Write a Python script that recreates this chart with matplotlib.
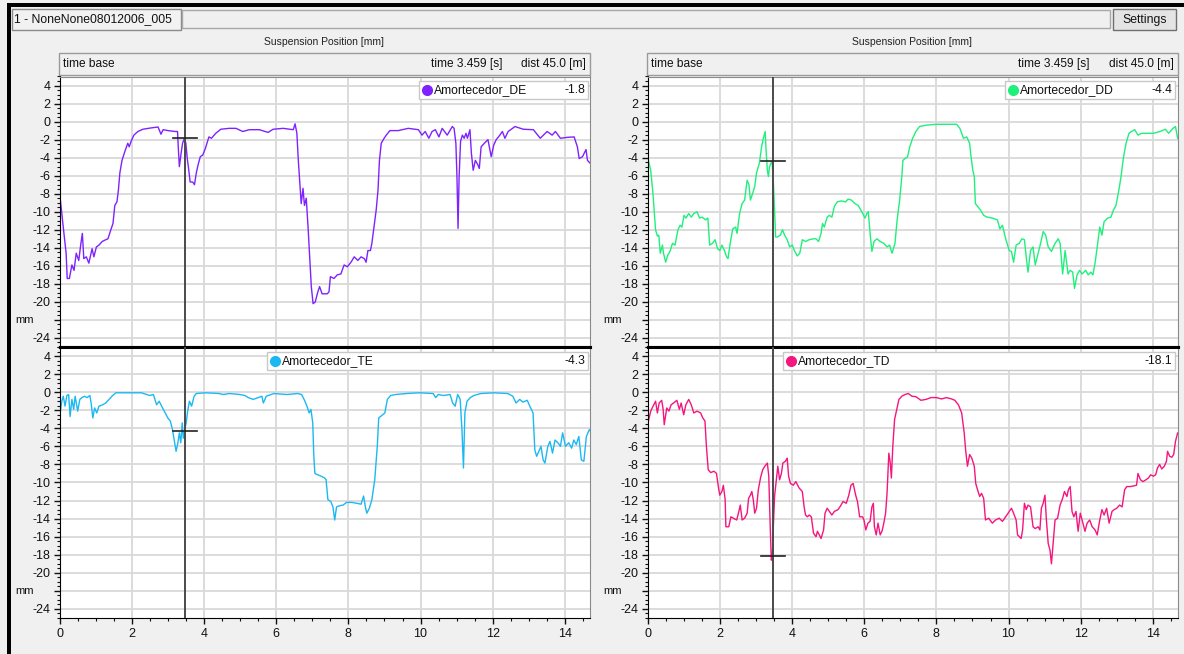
import numpy as np
import matplotlib.pyplot as plt
import matplotlib.transforms as mtransforms
from matplotlib.patches import Rectangle
from matplotlib.lines import Line2D
from matplotlib.ticker import MultipleLocator

plt.rcParams['font.family'] = ['Liberation Sans', 'DejaVu Sans']

W, H = 1184, 654

# cursor and header values
cursor_t = 3.459
cursor_dist = 45.0
file_name = "1 - NoneNone08012006_005"
chart_title = "Suspension Position [mm]"

names = ["Amortecedor_DE", "Amortecedor_DD", "Amortecedor_TE", "Amortecedor_TD"]
cursor_vals = [-1.8, -4.4, -4.3, -18.1]
colors = ["#7f22ff", "#1ff07c", "#1cb8f2", "#f5157e"]

# traces: (time [s], position [mm])
de = [(0, -8.3), (0.09, -11.7), (0.17, -14.6), (0.2, -17.4), (0.26, -17.4), (0.33, -15.9),
      (0.39, -16.5), (0.45, -14.6), (0.52, -15.4), (0.58, -13.5), (0.62, -12.4), (0.66, -15.2),
      (0.73, -15.0), (0.8, -15.7), (0.89, -14.1), (0.94, -15.0), (1.01, -13.9), (1.08, -13.7),
      (1.17, -13.3), (1.27, -13.1), (1.33, -13.0), (1.41, -12.0), (1.47, -11.3), (1.52, -9.3),
      (1.58, -8.9), (1.62, -7.6), (1.66, -5.7), (1.72, -4.3), (1.8, -3.3), (1.88, -2.4),
      (1.92, -2.8), (1.97, -2.2), (2.05, -1.5), (2.16, -1.1), (2.3, -0.85), (2.53, -0.7),
      (2.72, -0.6), (2.8, -1.4), (2.86, -0.9), (3.0, -1.0), (3.19, -1.1), (3.26, -1.1),
      (3.28, -2.8), (3.31, -5.0), (3.36, -3.5), (3.4, -2.4), (3.45, -1.85), (3.49, -2.4),
      (3.53, -4.1), (3.56, -5.0), (3.61, -6.7), (3.68, -6.7), (3.73, -7.0), (3.78, -5.7),
      (3.83, -4.8), (3.89, -3.9), (3.96, -3.7), (4.03, -3.0), (4.13, -1.7), (4.2, -1.85),
      (4.32, -1.3), (4.46, -0.85), (4.69, -0.75), (4.88, -0.75), (5.07, -1.1), (5.25, -0.9),
      (5.53, -0.9), (5.77, -1.2), (5.91, -0.85), (6.19, -0.75), (6.47, -0.9), (6.52, -0.25),
      (6.57, -1.3), (6.61, -4.3), (6.66, -7.2), (6.69, -9.1), (6.74, -7.4), (6.78, -9.3),
      (6.83, -8.5), (6.88, -11.7), (6.92, -14.6), (6.97, -18.3), (7.02, -20.2), (7.08, -20.0),
      (7.15, -18.9), (7.2, -18.3), (7.27, -19.1), (7.41, -19.1), (7.46, -18.9), (7.5, -17.2),
      (7.6, -17.4), (7.69, -17.0), (7.79, -16.9), (7.88, -15.9), (7.97, -16.1), (8.07, -15.6),
      (8.16, -15.0), (8.26, -15.4), (8.35, -15.0), (8.44, -15.2), (8.49, -15.6), (8.54, -14.3),
      (8.61, -14.3), (8.65, -13.5), (8.72, -11.3), (8.77, -9.8), (8.82, -7.6), (8.86, -4.3),
      (8.91, -2.4), (8.99, -1.85), (9.05, -1.5), (9.15, -1.0), (9.38, -1.0), (9.66, -0.75),
      (9.94, -0.9), (10.04, -1.5), (10.13, -1.1), (10.23, -1.85), (10.32, -1.1), (10.41, -0.9),
      (10.51, -1.7), (10.6, -0.75), (10.74, -1.5), (10.88, -0.55), (10.93, -0.75), (10.98, -2.4),
      (11.01, -6.1), (11.04, -11.85), (11.07, -6.1), (11.11, -2.2), (11.16, -1.5), (11.21, -1.85),
      (11.26, -1.3), (11.3, -1.85), (11.37, -0.9), (11.41, -3.5), (11.46, -5.4), (11.52, -4.3),
      (11.59, -4.8), (11.63, -5.2), (11.68, -2.8), (11.77, -2.4), (11.87, -2.0), (11.96, -3.9),
      (12.03, -2.6), (12.1, -2.0), (12.2, -1.5), (12.27, -1.1), (12.34, -1.85), (12.43, -1.1),
      (12.62, -0.55), (12.85, -0.85), (13.13, -0.9), (13.32, -1.85), (13.51, -1.1), (13.65, -1.5),
      (13.74, -1.1), (13.88, -1.85), (14.07, -1.75), (14.26, -1.7), (14.35, -2.8), (14.4, -4.1),
      (14.49, -3.9), (14.59, -3.1), (14.63, -4.3), (14.7, -4.6)]

dd = [(0, -4.1), (0.075, -5.4), (0.13, -7.6), (0.17, -9.8), (0.21, -12.0), (0.26, -12.7),
      (0.3, -12.6), (0.34, -14.6), (0.4, -13.7), (0.43, -14.6), (0.49, -15.6), (0.55, -14.8),
      (0.61, -14.4), (0.68, -13.5), (0.75, -13.7), (0.83, -12.0), (0.89, -11.5), (0.94, -11.7),
      (1.0, -10.4), (1.05, -10.7), (1.13, -10.2), (1.2, -10.6), (1.27, -10.2), (1.36, -10.0),
      (1.43, -10.7), (1.5, -10.6), (1.6, -10.9), (1.66, -10.7), (1.71, -13.7), (1.79, -13.5),
      (1.86, -13.1), (1.93, -14.1), (1.99, -14.3), (2.05, -13.7), (2.12, -14.3), (2.18, -15.0),
      (2.22, -15.2), (2.28, -13.5), (2.35, -11.9), (2.43, -11.7), (2.47, -12.4), (2.54, -10.2),
      (2.61, -9.1), (2.68, -8.7), (2.75, -6.5), (2.8, -7.0), (2.84, -8.7), (2.9, -8.0),
      (2.96, -7.2), (3.01, -5.7), (3.09, -4.6), (3.15, -2.8), (3.2, -1.85), (3.25, -1.1),
      (3.27, -2.8), (3.31, -5.4), (3.34, -6.1), (3.37, -5.0), (3.41, -4.6), (3.44, -4.4),
      (3.48, -6.9), (3.51, -9.8), (3.54, -12.8), (3.59, -12.8), (3.67, -12.6), (3.73, -12.0),
      (3.79, -12.6), (3.86, -13.1), (3.93, -13.9), (4.0, -13.7), (4.06, -14.3), (4.14, -14.9),
      (4.21, -14.6), (4.28, -13.1), (4.37, -13.3), (4.47, -13.1), (4.59, -13.0), (4.66, -13.0),
      (4.73, -13.3), (4.8, -12.4), (4.84, -11.3), (4.89, -11.7), (4.97, -10.6), (5.03, -10.4),
      (5.1, -10.6), (5.17, -9.4), (5.25, -8.9), (5.36, -8.8), (5.48, -8.9), (5.55, -8.6),
      (5.64, -8.7), (5.74, -9.1), (5.83, -9.3), (5.93, -10.0), (6.02, -10.7), (6.07, -10.2),
      (6.11, -10.0), (6.16, -12.4), (6.21, -14.4), (6.27, -13.3), (6.35, -13.0), (6.44, -13.3),
      (6.54, -13.5), (6.63, -13.9), (6.7, -13.7), (6.77, -14.6), (6.85, -13.5), (6.91, -10.9),
      (6.98, -8.7), (7.04, -6.1), (7.07, -4.3), (7.13, -4.1), (7.2, -3.9), (7.26, -2.8),
      (7.34, -1.85), (7.43, -1.1), (7.53, -0.55), (7.71, -0.4), (8.0, -0.3), (8.28, -0.3),
      (8.56, -0.3), (8.65, -0.75), (8.75, -1.85), (8.84, -1.7), (8.92, -2.4), (8.96, -3.9),
      (9.01, -5.4), (9.05, -6.1), (9.08, -9.1), (9.14, -9.4), (9.22, -9.8), (9.31, -10.4),
      (9.41, -10.6), (9.55, -10.7), (9.69, -10.9), (9.76, -11.9), (9.83, -11.5), (9.92, -13.0),
      (10.02, -14.3), (10.08, -14.4), (10.14, -15.6), (10.21, -13.7), (10.3, -13.5), (10.37, -13.0),
      (10.44, -13.1), (10.49, -15.0), (10.54, -16.7), (10.61, -14.3), (10.68, -13.9), (10.74, -15.9),
      (10.82, -14.6), (10.89, -13.5), (10.96, -12.2), (11.03, -12.6), (11.1, -13.9), (11.19, -14.4),
      (11.29, -13.5), (11.38, -13.0), (11.43, -13.5), (11.5, -16.9), (11.57, -14.3), (11.65, -16.9),
      (11.71, -16.5), (11.78, -16.7), (11.83, -18.5), (11.9, -17.0), (11.97, -16.5), (12.04, -16.9),
      (12.14, -16.5), (12.21, -17.0), (12.28, -16.7), (12.34, -17.0), (12.4, -15.7), (12.46, -13.9),
      (12.53, -11.7), (12.59, -12.6), (12.65, -11.1), (12.75, -10.7), (12.84, -10.6), (12.91, -9.8),
      (12.98, -9.3), (13.06, -7.6), (13.12, -6.1), (13.19, -3.9), (13.26, -2.4), (13.34, -1.3),
      (13.41, -1.1), (13.5, -0.9), (13.59, -1.5), (13.69, -1.3), (13.83, -1.3), (14.02, -1.3),
      (14.2, -1.1), (14.35, -0.85), (14.44, -1.3), (14.56, -0.75), (14.63, -0.55), (14.69, -1.85)]

te = [(0, -2.5), (0.05, -1.0), (0.09, -0.45), (0.14, -1.55), (0.19, -0.37), (0.24, -0.26),
      (0.28, -2.7), (0.33, -0.8), (0.38, -1.9), (0.42, -0.45), (0.49, -2.1), (0.55, -0.8),
      (0.61, -0.6), (0.68, -0.45), (0.75, -0.6), (0.83, -0.37), (0.87, -1.4), (0.91, -2.85),
      (0.96, -1.75), (1.02, -2.3), (1.08, -1.55), (1.18, -1.4), (1.27, -1.2), (1.36, -0.8),
      (1.46, -0.37), (1.55, -0.07), (1.88, -0.07), (2.26, -0.07), (2.4, -0.26), (2.49, -0.37),
      (2.59, -0.26), (2.68, -1.4), (2.75, -1.0), (2.82, -1.55), (2.92, -2.3), (2.99, -2.85),
      (3.06, -3.2), (3.12, -4.15), (3.18, -5.6), (3.22, -6.55), (3.27, -5.6), (3.31, -4.5),
      (3.35, -5.6), (3.39, -3.4), (3.42, -5.1), (3.46, -4.15), (3.5, -3.4), (3.54, -2.1),
      (3.59, -1.0), (3.65, -1.55), (3.72, -0.45), (3.78, -0.15), (4.05, -0.07), (4.42, -0.15),
      (4.52, -0.26), (4.7, -0.15), (4.99, -0.26), (5.13, -0.37), (5.22, -0.6), (5.36, -0.8),
      (5.5, -0.6), (5.6, -0.45), (5.64, -1.2), (5.72, -0.45), (5.93, -0.15), (6.3, -0.26),
      (6.59, -0.15), (6.7, -0.26), (6.77, -0.8), (6.85, -1.55), (6.91, -2.3), (6.96, -1.9),
      (7.01, -3.4), (7.04, -7.1), (7.07, -9.0), (7.15, -9.15), (7.24, -9.3), (7.34, -9.5),
      (7.38, -9.7), (7.43, -11.9), (7.51, -12.1), (7.57, -12.7), (7.62, -14.15), (7.67, -12.7),
      (7.73, -12.6), (7.85, -12.5), (7.95, -12.2), (8.09, -12.2), (8.23, -12.3), (8.35, -12.4),
      (8.42, -11.5), (8.47, -12.7), (8.51, -13.4), (8.58, -12.85), (8.65, -11.9), (8.73, -9.7),
      (8.8, -6.0), (8.84, -2.85), (8.92, -2.6), (9.01, -2.3), (9.08, -0.8), (9.17, -0.37),
      (9.31, -0.26), (9.6, -0.15), (9.97, -0.07), (10.35, -0.15), (10.42, -0.6), (10.49, -0.26),
      (10.63, -0.37), (10.82, -0.26), (10.89, -1.2), (10.96, -1.55), (11.03, -0.26), (11.1, -0.8),
      (11.15, -4.3), (11.19, -8.4), (11.23, -2.3), (11.29, -1.0), (11.38, -0.6), (11.48, -0.37),
      (11.67, -0.15), (12.04, -0.07), (12.42, -0.15), (12.56, -0.45), (12.65, -1.2), (12.75, -0.8),
      (12.84, -1.1), (12.96, -0.9), (13.03, -1.55), (13.12, -2.3), (13.17, -6.4), (13.22, -7.1),
      (13.28, -6.55), (13.34, -6.0), (13.4, -7.5), (13.45, -7.85), (13.53, -6.0), (13.59, -5.45),
      (13.66, -6.75), (13.73, -5.3), (13.81, -5.6), (13.88, -6.0), (13.94, -4.5), (14.02, -6.0),
      (14.11, -5.6), (14.19, -6.2), (14.25, -5.3), (14.32, -5.8), (14.39, -4.9), (14.46, -7.5),
      (14.53, -7.65), (14.6, -4.9), (14.68, -4.15), (14.75, -4.5)]

td = [(0, -3.4), (0.075, -2.1), (0.14, -1.55), (0.21, -1.0), (0.26, -2.3), (0.31, -1.2),
      (0.38, -0.9), (0.42, -1.9), (0.45, -3.6), (0.52, -1.75), (0.58, -2.1), (0.64, -1.4),
      (0.71, -1.2), (0.8, -0.9), (0.87, -1.9), (0.92, -1.2), (0.99, -2.5), (1.05, -1.4),
      (1.13, -0.8), (1.2, -1.4), (1.27, -2.3), (1.36, -2.1), (1.46, -2.3), (1.52, -2.85),
      (1.58, -3.2), (1.62, -6.0), (1.67, -8.6), (1.74, -8.9), (1.83, -8.75), (1.9, -9.0),
      (1.95, -10.45), (1.99, -11.4), (2.05, -11.0), (2.09, -10.3), (2.14, -11.9), (2.16, -14.9),
      (2.24, -14.9), (2.3, -13.8), (2.37, -13.95), (2.46, -14.15), (2.52, -13.2), (2.56, -12.5),
      (2.61, -14.15), (2.68, -13.95), (2.75, -13.4), (2.79, -11.75), (2.84, -11.4), (2.88, -11.0),
      (2.92, -11.9), (2.96, -13.4), (3.01, -12.85), (3.06, -10.8), (3.12, -9.5), (3.18, -8.6),
      (3.24, -8.2), (3.31, -7.85), (3.35, -9.3), (3.39, -14.9), (3.42, -18.6), (3.45, -18.2),
      (3.48, -14.5), (3.51, -11.55), (3.56, -9.7), (3.6, -8.2), (3.65, -9.7), (3.7, -9.0),
      (3.74, -7.85), (3.81, -7.65), (3.86, -7.3), (3.9, -9.3), (3.95, -10.1), (4.03, -10.3),
      (4.1, -9.9), (4.19, -10.6), (4.28, -11.0), (4.33, -12.7), (4.37, -13.6), (4.42, -13.8),
      (4.47, -13.6), (4.53, -13.8), (4.59, -15.6), (4.66, -16.0), (4.7, -15.4), (4.75, -15.8),
      (4.8, -16.2), (4.87, -15.25), (4.91, -13.4), (4.97, -12.85), (5.03, -13.2), (5.1, -13.6),
      (5.17, -13.2), (5.27, -13.0), (5.34, -12.6), (5.41, -12.1), (5.5, -12.3), (5.57, -11.4),
      (5.63, -10.3), (5.69, -10.1), (5.76, -11.4), (5.81, -12.1), (5.87, -13.8), (5.95, -13.8),
      (5.99, -14.15), (6.04, -15.25), (6.1, -14.5), (6.16, -14.3), (6.21, -12.7), (6.25, -12.3),
      (6.28, -14.9), (6.33, -15.8), (6.38, -14.5), (6.44, -15.8), (6.49, -15.4), (6.54, -14.5),
      (6.59, -13.4), (6.63, -11.2), (6.68, -6.75), (6.72, -7.85), (6.75, -9.5), (6.79, -6.0),
      (6.84, -3.0), (6.9, -1.9), (6.96, -0.8), (7.04, -0.45), (7.13, -0.26), (7.22, -0.15),
      (7.32, -0.45), (7.43, -0.5), (7.57, -0.9), (7.71, -0.8), (7.85, -0.6), (8.0, -0.6),
      (8.14, -0.75), (8.28, -0.6), (8.42, -0.75), (8.51, -0.9), (8.61, -1.4), (8.7, -2.3),
      (8.77, -4.5), (8.81, -6.4), (8.86, -8.2), (8.92, -6.9), (8.98, -7.3), (9.05, -8.2),
      (9.09, -10.1), (9.14, -10.8), (9.2, -11.55), (9.25, -11.2), (9.31, -11.75), (9.36, -14.15),
      (9.45, -13.95), (9.55, -14.5), (9.64, -14.15), (9.74, -13.95), (9.83, -14.3), (9.92, -13.8),
      (10.02, -13.2), (10.08, -12.85), (10.14, -13.4), (10.21, -14.15), (10.25, -15.8), (10.35, -16.2),
      (10.39, -15.25), (10.44, -12.3), (10.49, -13.0), (10.54, -12.5), (10.61, -12.7), (10.68, -14.9),
      (10.74, -15.1), (10.82, -14.9), (10.87, -15.25), (10.91, -12.85), (10.96, -12.3), (11.01, -11.4),
      (11.05, -14.15), (11.1, -16.75), (11.15, -17.5), (11.19, -19.0), (11.24, -16.6), (11.29, -14.15),
      (11.36, -13.95), (11.43, -12.5), (11.5, -11.75), (11.55, -11.0), (11.62, -11.55), (11.66, -10.8),
      (11.71, -10.45), (11.76, -13.2), (11.81, -13.8), (11.87, -13.2), (11.93, -15.4), (11.99, -13.4),
      (12.04, -14.15), (12.12, -15.4), (12.18, -14.5), (12.25, -14.15), (12.32, -14.9), (12.4, -15.25),
      (12.46, -15.8), (12.53, -14.15), (12.59, -13.0), (12.65, -13.6), (12.72, -12.85), (12.79, -14.5),
      (12.87, -13.2), (12.93, -13.0), (13.0, -12.85), (13.08, -12.5), (13.15, -12.7), (13.22, -10.8),
      (13.28, -10.45), (13.36, -10.45), (13.45, -10.4), (13.55, -10.3), (13.59, -9.0), (13.66, -9.7),
      (13.73, -9.9), (13.81, -9.7), (13.88, -9.5), (13.94, -9.15), (14.02, -9.3), (14.08, -9.15),
      (14.13, -8.4), (14.19, -8.0), (14.25, -8.5), (14.32, -8.2), (14.38, -7.65), (14.41, -6.55),
      (14.47, -7.1), (14.53, -7.2), (14.58, -6.9), (14.63, -5.45), (14.69, -4.5), (14.75, -4.7)]

traces = [de, dd, te, td]

y_ticks = list(range(-24, 5, 2))
y_labels = ["" if v == -22 else str(v) for v in y_ticks]
x_ticks = list(range(0, 15, 2))

fig = plt.figure(figsize=(W / 100, H / 100), dpi=100, facecolor="#f0f0f0")


def fx(px):
    return px / W


def fy(py):
    return 1 - py / H


def rect(x0, y0, x1, y1, fc, ec, lw=1.0, z=1):
    r = Rectangle((fx(x0), fy(y1)), (x1 - x0) / W, (y1 - y0) / H, transform=fig.transFigure,
                  facecolor=fc, edgecolor=ec, lw=lw, zorder=z)
    fig.patches.append(r)


# window chrome
rect(7, 3, 1184, 7, "black", "none", z=10)
rect(7, 3, 11, 654, "black", "none", z=10)
rect(12, 9, 181, 30, "#f2f2f2", "#8a8a8a")
rect(182, 10, 1110, 28, "#f0f0f0", "#a8a8a8")
rect(1113, 9, 1176, 30, "#e4e4e4", "#707070")
fig.text(fx(14), fy(19.5), file_name, fontsize=8.8, va="center", ha="left", color="#111111")
fig.text(fx(1144.5), fy(19.5), "Settings", fontsize=8.8, va="center", ha="center", color="#111111")

cols = [(60, 590), (648, 1178)]
rows = [(76.5, 347), (347, 618)]
legend_box = [(419, 81, 588, 99), (1005, 81, 1175, 99), (267, 352, 588, 370), (783, 352, 1175, 370)]

for c, (x0, x1) in enumerate(cols):
    fig.text(fx((x0 + x1) / 2 - 1), fy(42), chart_title, fontsize=7.5, ha="center", va="center",
             color="#222222")
    rect(x0 - 1, 53, x1, 75, "#f0f0f0", "#9a9a9a")
    fig.text(fx(x0 + 3), fy(64), "time base", fontsize=8.6, va="center", ha="left", color="#111111")
    fig.text(fx(x1 - 88), fy(64), f"time {cursor_t:.3f} [s]", fontsize=8.6, va="center", ha="right",
             color="#111111")
    fig.text(fx(x1 - 4), fy(64), f"dist {cursor_dist:.1f} [m]", fontsize=8.6, va="center", ha="right",
             color="#111111")

for i in range(4):
    r, c = divmod(i, 2)
    x0, x1 = cols[c]
    y0, y1 = rows[r]
    ax = fig.add_axes([fx(x0), fy(y1), (x1 - x0) / W, (y1 - y0) / H])
    ax.set_facecolor("white")
    ax.set_xlim(0, 14.7)
    ax.set_ylim(-25, 5)
    ax.set_xticks(x_ticks)
    ax.set_yticks(y_ticks)
    ax.set_yticklabels(y_labels)
    ax.xaxis.set_minor_locator(MultipleLocator(0.5))
    ax.yaxis.set_minor_locator(MultipleLocator(0.5))
    ax.grid(True, which="major", color="#d9d9d9", lw=1.3)
    ax.set_axisbelow(True)
    ax.tick_params(which="major", direction="out", length=4, width=1, labelsize=9, pad=3,
                   colors="#111111")
    ax.tick_params(which="minor", direction="out", length=2, width=0.8, colors="#111111")
    if r == 0:
        ax.tick_params(axis="x", which="both", bottom=False, labelbottom=False)
    for side in ["top", "right"]:
        ax.spines[side].set_color("#8a8a8a")
    ax.spines["left"].set_color("black")
    ax.spines["bottom"].set_color("black")
    if r == 0:
        ax.spines["bottom"].set_linewidth(2.2)
    else:
        ax.spines["top"].set_color("black")
        ax.spines["top"].set_linewidth(2.2)

    t, v = np.array(traces[i]).T
    ax.plot(t, v, color=colors[i], lw=1.0, zorder=2)
    ax.axvline(cursor_t, color="#4a4a4a", lw=1.4, zorder=3)
    ax.plot([cursor_t - 0.33, cursor_t + 0.33], [cursor_vals[i]] * 2, color="#222222", lw=1.2, zorder=4)

    # "mm" in place of the -22 label
    tr = mtransforms.blended_transform_factory(fig.transFigure, ax.transData)
    fig.text(fx(x0 - 35), -22, "mm", transform=tr, fontsize=8, ha="center", va="center",
             color="#111111")

    # legend entry with cursor value
    bx0, by0, bx1, by1 = legend_box[i]
    rect(bx0, by0, bx1, by1, "white", "#c8c8c8", z=5)
    fig.add_artist(Line2D([fx(bx0 + 8)], [fy((by0 + by1) / 2)], marker="o", markersize=7,
                          color=colors[i], transform=fig.transFigure, zorder=6))
    fig.text(fx(bx0 + 15), fy((by0 + by1) / 2), names[i], fontsize=8.7, va="center", ha="left",
             color="#111111", zorder=6)
    fig.text(fx(bx1 - 3), fy((by0 + by1) / 2), f"{cursor_vals[i]:.1f}", fontsize=8.7, va="center",
             ha="right", color="#111111", zorder=6)

fig.savefig("out.png", dpi=100, facecolor=fig.get_facecolor())
